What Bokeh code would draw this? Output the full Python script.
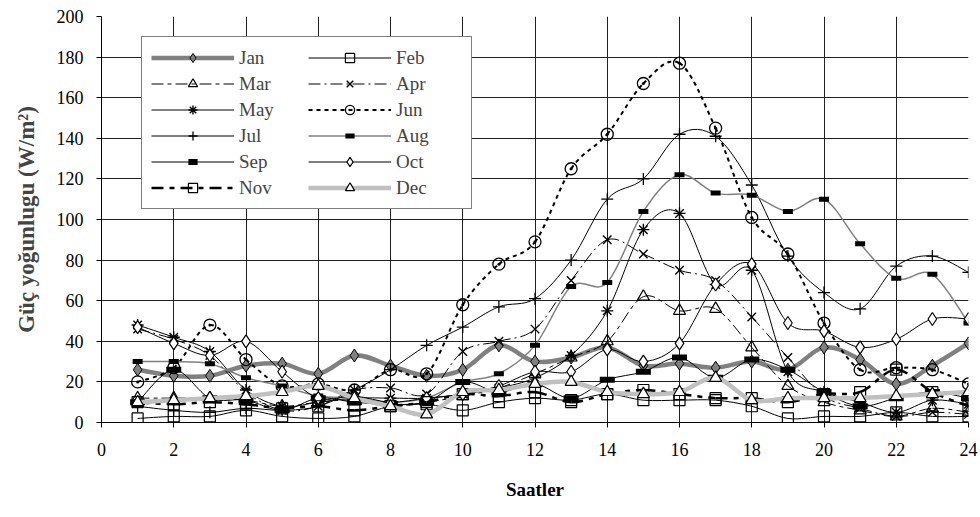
import numpy as np
from bokeh.plotting import figure
from bokeh.models import Range1d, FixedTicker, Legend, LegendItem, Title, ColumnDataSource
from bokeh.embed import file_html
from bokeh.resources import INLINE

FONT = "Liberation Serif"

hours = list(range(1, 25))
x_ticks = list(range(0, 25, 2))
y_ticks = list(range(0, 201, 20))

jan = [26, 23, 23, 28, 29, 24, 33, 28, 23, 26, 38, 30, 32, 37, 28, 29, 27, 30, 26, 37, 31, 19, 28, 39]
feb = [2, 3, 3, 6, 3, 2, 3, 8, 9, 6, 10, 12, 11, 14, 11, 11, 11, 8, 2, 3, 3, 5, 3, 3]
mar = [12, 12, 12, 11, 8, 10, 11, 8, 10, 13, 17, 24, 32, 40, 62, 55, 56, 37, 18, 10, 6, 3, 7, 5]
apr = [46, 41, 33, 15, 6, 8, 16, 17, 14, 35, 40, 46, 70, 90, 83, 75, 70, 52, 32, 13, 7, 3, 5, 4]
may = [48, 42, 35, 16, 8, 10, 12, 12, 12, 14, 17, 22, 33, 55, 95, 103, 68, 75, 25, 15, 10, 5, 11, 9]
jun = [20, 27, 48, 31, 18, 19, 16, 26, 24, 58, 78, 89, 125, 142, 167, 177, 145, 101, 83, 49, 26, 27, 26, 19]
jul = [8, 6, 5, 7, 6, 8, 16, 26, 38, 47, 57, 61, 80, 110, 120, 142, 141, 117, 82, 64, 56, 77, 82, 74]
aug = [30, 30, 29, 22, 18, 13, 12, 10, 12, 20, 24, 38, 67, 69, 104, 122, 113, 112, 104, 110, 88, 71, 73, 49]
sep = [10, 26, 12, 11, 6, 12, 10, 9, 10, 20, 15, 19, 12, 21, 25, 32, 22, 31, 26, 15, 8, 12, 15, 12]
octo = [47, 39, 33, 40, 25, 12, 13, 10, 12, 14, 18, 25, 25, 36, 30, 39, 68, 78, 49, 45, 37, 41, 51, 51]
nov = [10, 9, 10, 9, 7, 8, 6, 8, 10, 14, 13, 15, 10, 14, 16, 14, 12, 12, 10, 14, 15, 26, 15, 8]
dec = [10, 11, 12, 13, 15, 18, 12, 8, 4, 15, 16, 19, 20, 15, 14, 15, 22, 11, 12, 12, 12, 13, 14, 15]

month_names = ["Jan", "Feb", "Mar", "Apr", "May", "Jun", "Jul", "Aug", "Sep", "Oct", "Nov", "Dec"]
month_values = [jan, feb, mar, apr, may, jun, jul, aug, sep, octo, nov, dec]

styles = {
    "Jan": dict(lc="#808080", lw=4.5, dash="solid", marker="diamond", ms=13, mf="#808080", mfa=1.0, mlw=1),
    "Feb": dict(lc="black", lw=1, dash="solid", marker="square", ms=11, mf="white", mfa=0.0, mlw=1.2),
    "Mar": dict(lc="black", lw=1, dash="12 4 4 4", marker="triangle", ms=12, mf="white", mfa=0.0, mlw=1.2),
    "Apr": dict(lc="black", lw=1, dash="12 4 2 4", marker="x", ms=12, mf="white", mfa=0.0, mlw=1.4),
    "May": dict(lc="black", lw=1, dash="solid", marker="asterisk", ms=12, mf="white", mfa=0.0, mlw=1.4),
    "Jun": dict(lc="black", lw=2, dash="4 4", marker="circle_dot", ms=12, mf="white", mfa=0.0, mlw=1.3),
    "Jul": dict(lc="black", lw=1, dash="solid", marker="cross", ms=12, mf="white", mfa=0.0, mlw=1.3),
    "Aug": dict(lc="#808080", lw=1.5, dash="solid", marker="dash", ms=10, mf="black", mfa=1.0, mlw=5),
    "Sep": dict(lc="black", lw=1, dash="solid", marker="dash", ms=15, mf="black", mfa=1.0, mlw=6),
    "Oct": dict(lc="black", lw=1, dash="solid", marker="diamond", ms=13, mf="white", mfa=1.0, mlw=1.2),
    "Nov": dict(lc="black", lw=2.5, dash="12 6 5 6", marker="square", ms=11, mf="white", mfa=0.0, mlw=1.2),
    "Dec": dict(lc="#c0c0c0", lw=4.5, dash="solid", marker="triangle", ms=12, mf="white", mfa=1.0, mlw=1.2),
}


def bezier_source(xs, ys):
    n = len(xs)
    d = dict(x0=[], y0=[], x1=[], y1=[], cx0=[], cy0=[], cx1=[], cy1=[])
    for i in range(n - 1):
        im = i - 1 if i > 0 else i
        ip = i + 2 if i + 2 < n else i + 1
        d["x0"].append(xs[i]); d["y0"].append(ys[i])
        d["x1"].append(xs[i + 1]); d["y1"].append(ys[i + 1])
        d["cx0"].append(xs[i] + (xs[i + 1] - xs[im]) / 6.0)
        d["cy0"].append(ys[i] + (ys[i + 1] - ys[im]) / 6.0)
        d["cx1"].append(xs[i + 1] - (xs[ip] - xs[i]) / 6.0)
        d["cy1"].append(ys[i + 1] - (ys[ip] - ys[i]) / 6.0)
    return ColumnDataSource(d)


p = figure(width=980, height=517, output_backend="svg", toolbar_location=None,
           x_range=Range1d(0, 24), y_range=Range1d(0, 200),
           min_border_left=101, min_border_right=12, min_border_top=16, min_border_bottom=95)
p.outline_line_color = None
p.background_fill_color = "white"
p.border_fill_color = "white"

for ax, ticks in ((p.xaxis, x_ticks), (p.yaxis, y_ticks)):
    ax.ticker = FixedTicker(ticks=ticks)
    ax.minor_tick_line_color = None
    ax.major_tick_out = 5
    ax.major_tick_in = 0
    ax.axis_line_color = "black"
    ax.major_tick_line_color = "black"
    ax.major_label_text_font = FONT
    ax.major_label_text_font_size = "18px"
    ax.major_label_text_color = "black"

p.xaxis.major_label_standoff = 15
p.yaxis.major_label_standoff = 13
p.yaxis.axis_label = "Güç yoğunlugu (W/m²)"
p.yaxis.axis_label_text_font = FONT
p.yaxis.axis_label_text_font_style = "bold"
p.yaxis.axis_label_text_font_size = "23px"
p.yaxis.axis_label_standoff = 15

p.xgrid.ticker = FixedTicker(ticks=x_ticks)
p.ygrid.ticker = FixedTicker(ticks=y_ticks)
p.xgrid.grid_line_color = "#202020"
p.ygrid.grid_line_color = "#202020"
p.xgrid.grid_line_width = 1
p.ygrid.grid_line_width = 1

items = {}
for name, vals in zip(month_names, month_values):
    s = styles[name]
    src = bezier_source(hours, vals)
    r_line = p.bezier(x0="x0", y0="y0", x1="x1", y1="y1", cx0="cx0", cy0="cy0", cx1="cx1", cy1="cy1",
                      source=src, line_color=s["lc"], line_width=s["lw"], line_dash=s["dash"])
    r_mark = p.scatter(hours, vals, marker=s["marker"], size=s["ms"], line_color="black",
                       fill_color=s["mf"], fill_alpha=s["mfa"], line_width=s["mlw"])
    items[name] = LegendItem(label=name, renderers=[r_line, r_mark])

# legend fills column by column: first column holds odd entries, second column even entries
legend_order = month_names[0::2] + month_names[1::2]
legend = Legend(items=[items[n] for n in legend_order], ncols=2, location=(40, 213),
                glyph_width=83, glyph_height=23, label_height=23, label_width=66,
                label_standoff=5, spacing=3, padding=9, margin=0,
                label_text_font=FONT, label_text_font_size="19px",
                border_line_color="black", border_line_width=1,
                background_fill_color="white", background_fill_alpha=1.0)
p.add_layout(legend, "center")

xtitle = Title(text="Saatler", align="center", offset=-94, standoff=36,
               text_font=FONT, text_font_style="bold", text_font_size="19px", text_color="black")
p.add_layout(xtitle, "below")

open("out.html", "w").write(file_html(p, INLINE))
